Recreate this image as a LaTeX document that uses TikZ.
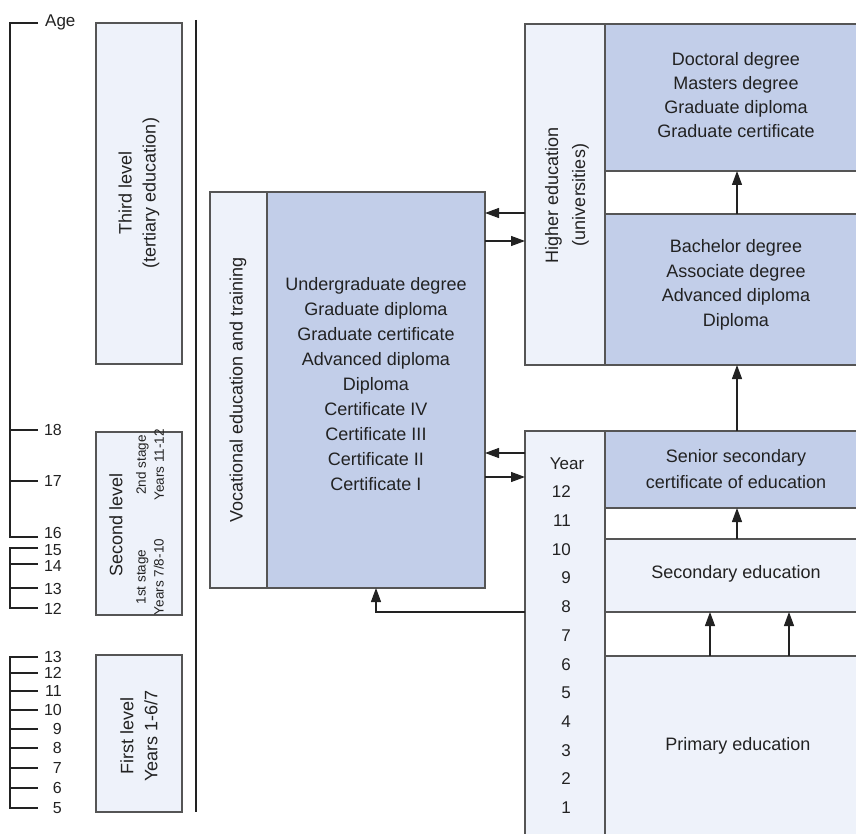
\documentclass[tikz,border=0pt]{standalone}
\usepackage{fontspec}
\setmainfont{Liberation Sans}
\usetikzlibrary{arrows.meta}
\definecolor{blu}{HTML}{C2CEE9}
\definecolor{lite}{HTML}{EEF2FA}
\definecolor{edge}{HTML}{555555}
\definecolor{ink}{HTML}{222222}
\begin{document}
\begin{tikzpicture}[x=1pt,y=-1pt,
 box/.style={draw=edge, line width=1.3pt, anchor=north west, inner sep=0pt, outer sep=0pt},
 bluebox/.style={box, fill=blu},
 litebox/.style={box, fill=lite},
 lbl/.style={text=ink, font=\fontsize{18}{24}\selectfont, align=center, inner sep=0pt},
 smalllbl/.style={text=ink, font=\fontsize{13.5}{18}\selectfont, align=center, inner sep=0pt},
 arr/.style={draw=ink, line width=1.2pt, -{Triangle[length=14pt,width=10pt]}},
 tickline/.style={draw=ink, line width=1.6pt},
 agelbl/.style={text=ink, font=\fontsize{16}{16}\selectfont, anchor=east, inner sep=0pt},
 yearlbl/.style={text=ink, font=\fontsize{17}{17}\selectfont, anchor=east, inner sep=0pt},
]
\useasboundingbox (0,0) rectangle (856,834);

% left level boxes
\node[litebox, minimum width=86pt, minimum height=341pt] (third) at (96,23) {};
\node[litebox, minimum width=86pt, minimum height=183pt] (second) at (96,432) {};
\node[litebox, minimum width=86pt, minimum height=157pt] (first) at (96,655) {};
\node[lbl, rotate=90, align=center] (thirdtxt) at (139,193) {Third level\\(tertiary education)};
\node[lbl, rotate=90] (secondtxt) at (116,525) {Second level};
\node[smalllbl, rotate=90] (stage2) at (150,465) {2nd stage\\Years 11-12};
\node[smalllbl, rotate=90] (stage1) at (150,577) {1st stage\\Years 7/8-10};
\node[lbl, rotate=90, align=center] (firsttxt) at (139,736) {First level\\Years 1-6/7};

% divider
\draw[ink, line width=1.8pt] (196,20) -- (196,812);

% age scale
\draw[tickline] (38,23) -- (10,23) -- (10,537) -- (38,537);
\draw[tickline] (10,430) -- (38,430);
\draw[tickline] (10,481) -- (38,481);
\node[text=ink, font=\fontsize{17}{17}\selectfont, anchor=west, inner sep=0pt] (agetxt) at (45,22) {Age};
\node[agelbl] (a18) at (62,430) {18};
\node[agelbl] (a17) at (62,481) {17};
\node[agelbl] (a16) at (62,533) {16};

\draw[tickline] (38,548) -- (10,548) -- (10,608) -- (38,608);
\draw[tickline] (10,564) -- (38,564);
\draw[tickline] (10,588) -- (38,588);
\node[agelbl] (b15) at (62,550) {15};
\node[agelbl] (b14) at (62,566) {14};
\node[agelbl] (b13) at (62,589) {13};
\node[agelbl] (b12) at (62,609) {12};

\draw[tickline] (38,657) -- (10,657) -- (10,808) -- (38,808);
\foreach \yy in {673,691,710,729,748,768,788} {\draw[tickline] (10,\yy) -- (38,\yy);}
\foreach \yy/\tt in {657/13,673/12,691/11,710/10,729/9,748/8,768/7,788/6,808/5} {\node[agelbl] (c\tt) at (62,\yy) {\tt};}

% vocational
\node[litebox, minimum width=57pt, minimum height=396pt] (vocstrip) at (210,192) {};
\node[bluebox, minimum width=218pt, minimum height=396pt] (voc) at (267,192) {};
\node[lbl, rotate=90] (voctitle) at (238,390) {Vocational education and training};
\node[lbl, font=\fontsize{18}{25}\selectfont] (voctxt) at (376,384) {Undergraduate degree\\Graduate diploma\\Graduate certificate\\Advanced diploma\\Diploma\\Certificate IV\\Certificate III\\Certificate II\\Certificate I};

% higher education
\node[litebox, minimum width=80pt, minimum height=341pt] (hedstrip) at (525,24) {};
\node[bluebox, minimum width=264pt, minimum height=147pt] (doc) at (605,24) {};
\node[bluebox, minimum width=264pt, minimum height=151pt] (bach) at (605,214) {};
\node[lbl, rotate=90, font=\fontsize{18}{27}\selectfont] (hedtxt) at (567,195) {Higher education\\(universities)};
\node[lbl] (doctxt) at (736,95) {Doctoral degree\\Masters degree\\Graduate diploma\\Graduate certificate};
\node[lbl, font=\fontsize{18}{24.5}\selectfont] (bachtxt) at (736,285) {Bachelor degree\\Associate degree\\Advanced diploma\\Diploma};

% schools
\node[litebox, minimum width=80pt, minimum height=420pt] (yearstrip) at (525,431) {};
\node[bluebox, minimum width=264pt, minimum height=77pt] (senior) at (605,431) {};
\node[litebox, minimum width=264pt, minimum height=73pt] (sec) at (605,539) {};
\node[litebox, minimum width=264pt, minimum height=200pt] (prim) at (605,656) {};
\node[lbl, font=\fontsize{18}{26}\selectfont] (seniortxt) at (736,469) {Senior secondary\\certificate of education};
\node[lbl] (sectxt) at (736,574) {Secondary education};
\node[lbl] (primtxt) at (738,746) {Primary education};

\node[text=ink, font=\fontsize{17}{17}\selectfont, inner sep=0pt] (yeartxt) at (567,464) {Year};
\foreach \n in {12,11,...,1} {
  \pgfmathsetmacro{\yy}{492+(12-\n)*28.7}
  \node[yearlbl] (y\n) at (571,\yy) {\n};
}

% connector coordinates
\coordinate (r213) at (0,213);
\coordinate (r241) at (0,241);
\coordinate (r453) at (0,453);
\coordinate (r477) at (0,477);
\coordinate (r612) at (0,612);
\coordinate (c710) at (710,0);
\coordinate (c789) at (789,0);

\draw[arr] (hedstrip.west |- r213) -- (voc.east |- r213);
\draw[arr] (voc.east |- r241) -- (hedstrip.west |- r241);
\draw[arr] (yearstrip.west |- r453) -- (voc.east |- r453);
\draw[arr] (voc.east |- r477) -- (yearstrip.west |- r477);
\draw[arr] (yearstrip.west |- r612) -| (voc.south);
\draw[arr] (bach.north) -- (doc.south);
\draw[arr] (senior.north) -- (bach.south);
\draw[arr] (sec.north) -- (senior.south);
\draw[arr] (c710 |- prim.north) -- (c710 |- sec.south);
\draw[arr] (c789 |- prim.north) -- (c789 |- sec.south);
\end{tikzpicture}
\end{document}
